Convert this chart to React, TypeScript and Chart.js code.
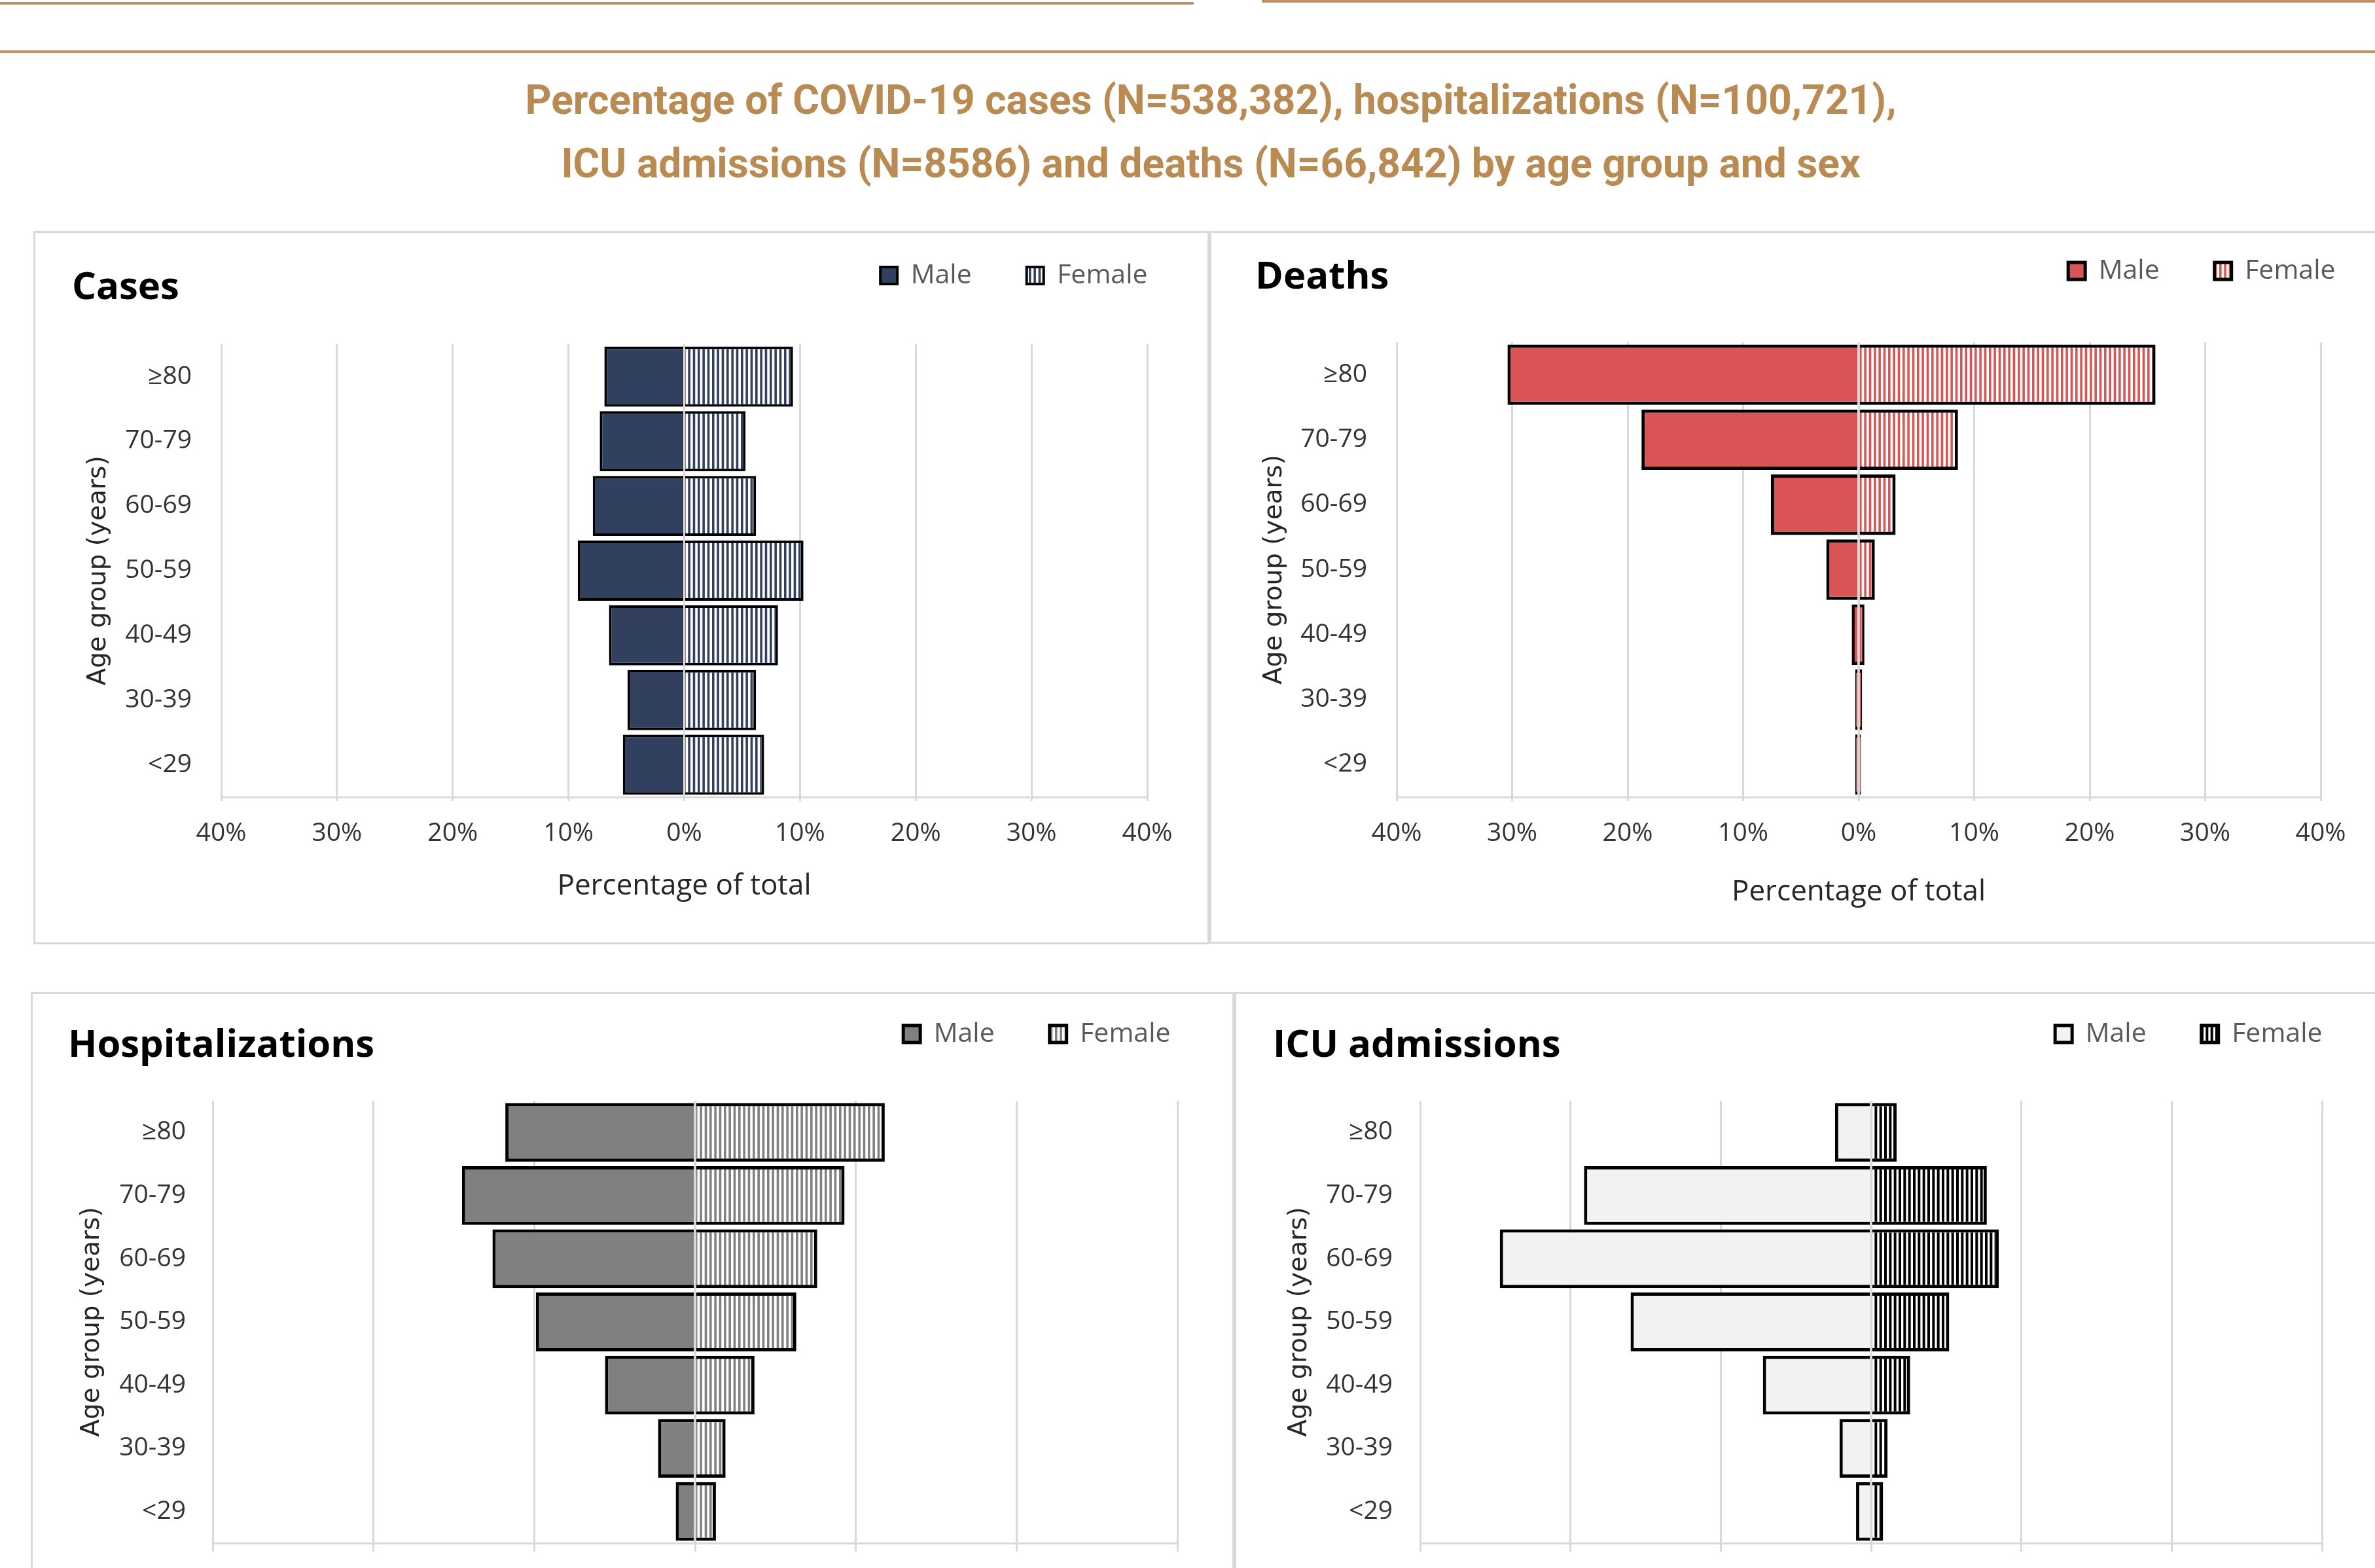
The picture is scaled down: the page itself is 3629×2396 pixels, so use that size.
import React, { useEffect, useRef } from 'react';
import { Chart, registerables } from 'chart.js';

Chart.register(...registerables);

// ---------------- data ----------------
const ageGroups = ['≥80', '70-79', '60-69', '50-59', '40-49', '30-39', '<29'];
const sexLabels = ['Male', 'Female'];

const casesMale = [6.9, 7.3, 7.9, 9.2, 6.5, 4.9, 5.3];
const casesFemale = [9.4, 5.3, 6.2, 10.3, 8.1, 6.2, 6.9];
const deathsMale = [30.4, 18.8, 7.6, 2.8, 0.6, 0.3, 0.3];
const deathsFemale = [25.7, 8.6, 3.2, 1.4, 0.5, 0.3, 0.2];
const hospMale = [11.8, 14.5, 12.6, 9.9, 5.6, 2.3, 1.2];
const hospFemale = [11.8, 9.3, 7.6, 6.3, 3.7, 1.9, 1.3];
const icuMale = [2.4, 19.1, 24.7, 16.0, 7.2, 2.1, 1.0];
const icuFemale = [1.7, 7.7, 8.5, 5.2, 2.6, 1.1, 0.8];

const titleLines = [
  'Percentage of COVID-19 cases (N=538,382), hospitalizations (N=100,721),',
  'ICU admissions (N=8586) and deaths (N=66,842) by age group and sex',
];
const panelTitles = ['Cases', 'Deaths', 'Hospitalizations', 'ICU admissions'];
const xAxisTitle = 'Percentage of total';
const yAxisTitle = 'Age group (years)';

// ---------------- styles ----------------
const BROWN = '#B98A52';
const RULE = '#BF9260';
const GRID = '#D9D9D9';
const TICK_COLOR = '#333333';
const AXIS_TITLE_COLOR = '#262626';
const LEGEND_COLOR = '#595959';
const B = 3; // panel border
const FONT = { panelTitle: 58, legend: 41, tick: 39, axisTitle: 44, yTitle: 39 };
const LEG_PAD = 84;
const LEG_BOX = 26;

interface PanelSpec {
  box: number[]; // left, top, width, height (outer)
  title: string;
  titleX: number;
  titleY: number;
  legendY: number;
  legendRight: number;
  plot: number[]; // left, top, right, bottom
  labelRight: number;
  yTitleX: number;
  tickY: number;
  xTitleY: number;
  tickLen: number;
  range: number;
  male: number[];
  female: number[];
  maleColor: string;
  stripeColor: string;
  stripeW: number;
  bw: number;
}

const panels: PanelSpec[] = [
  {
    box: [51, 353, 1797, 1090], title: panelTitles[0], titleX: 110, titleY: 440, legendY: 421, legendRight: 1753,
    plot: [338, 526, 1753, 1218], labelRight: 293, yTitleX: 151, tickY: 1274, xTitleY: 1354, tickLen: 6, range: 40,
    male: casesMale, female: casesFemale, maleColor: '#31405E', stripeColor: '#31405E', stripeW: 3.6, bw: 4,
  },
  {
    box: [1848, 353, 1800, 1089], title: panelTitles[1], titleX: 1918, titleY: 424, legendY: 414, legendRight: 3568,
    plot: [2134, 523, 3546, 1218], labelRight: 2089, yTitleX: 1948, tickY: 1274, xTitleY: 1363, tickLen: 6, range: 40,
    male: deathsMale, female: deathsFemale, maleColor: '#DA5456', stripeColor: '#DA5456', stripeW: 3.6, bw: 5,
  },
  {
    box: [47, 1516, 1839, 1044], title: panelTitles[2], titleX: 104, titleY: 1598, legendY: 1580, legendRight: 1788,
    plot: [325, 1682, 1799, 2358], labelRight: 284, yTitleX: 141, tickY: 2414, xTitleY: 2494, tickLen: 13, range: 30,
    male: hospMale, female: hospFemale, maleColor: '#808080', stripeColor: '#808080', stripeW: 3.6, bw: 5,
  },
  {
    box: [1886, 1516, 1800, 1044], title: panelTitles[3], titleX: 1945, titleY: 1598, legendY: 1580, legendRight: 3548,
    plot: [2170, 1682, 3548, 2358], labelRight: 2128, yTitleX: 1986, tickY: 2414, xTitleY: 2494, tickLen: 13, range: 30,
    male: icuMale, female: icuFemale, maleColor: '#F2F2F2', stripeColor: '#000000', stripeW: 4, bw: 5,
  },
];

function stripes(ctx: CanvasRenderingContext2D, color: string, w: number): CanvasPattern {
  const c = document.createElement('canvas');
  c.width = 22;
  c.height = 8;
  const g = c.getContext('2d')!;
  g.fillStyle = '#ffffff';
  g.fillRect(0, 0, 22, 8);
  g.fillStyle = color;
  for (let i = 0; i < 3; i++) g.fillRect((i * 22) / 3, 0, w, 8);
  return ctx.createPattern(c, 'repeat')!;
}

const panelHeader = {
  id: 'panelHeader',
  afterLayout(chart: any, _a: any, o: any) {
    const tb = chart.titleBlock;
    if (tb) {
      tb.top = o.titleTop;
      tb.bottom = o.titleTop + o.titleH;
      tb.left = o.titleLeft;
      tb.right = chart.width;
      tb.width = tb.right - tb.left;
      tb.height = o.titleH;
    }
    const lg = chart.legend;
    if (lg) {
      lg.top = o.legendTop;
      lg.bottom = o.legendTop + o.legendH;
      lg.left = 0;
      lg.right = o.legendRight;
      lg.width = lg.right - lg.left;
      lg.height = o.legendH;
    }
  },
};

const zeroLine = {
  id: 'zeroLine',
  afterDatasetsDraw(chart: any, _a: any, o: any) {
    const x = chart.scales.x.getPixelForValue(0);
    const { top, bottom } = chart.chartArea;
    const c = chart.ctx;
    c.save();
    c.strokeStyle = o.color;
    c.lineWidth = o.width;
    c.beginPath();
    c.moveTo(x, top);
    c.lineTo(x, bottom);
    c.stroke();
    c.restore();
  },
};

function buildConfig(s: PanelSpec, ctx: CanvasRenderingContext2D): any {
  const ox = s.box[0] + B;
  const oy = s.box[1] + B;
  const cw = s.box[2] - 2 * B;
  const ch = s.box[3] - 2 * B;
  const [pl, pt, pr, pb] = s.plot;
  const yAxisW = pl - ox;
  const padRight = cw - (pr - ox);
  const titleLH = FONT.panelTitle * 1.2;
  const padTop = pt - oy - titleLH - 1;
  const xTitleLH = FONT.axisTitle * 1.2;
  const scaleBottom = s.xTitleY - oy + xTitleLH / 2;
  const xAxisH = scaleBottom - (pb - oy);
  const padBottom = ch - scaleBottom;
  const tickPad = s.tickY - pb - s.tickLen - (FONT.tick * 1.2) / 2;
  const yTitlePad = s.yTitleX - ox - (FONT.yTitle * 1.2) / 2;
  const itemH = Math.max(FONT.legend, LEG_BOX);
  const legendTop = s.legendY - oy - LEG_PAD - itemH / 2;

  return {
    type: 'bar',
    data: {
      labels: ageGroups,
      datasets: [
        {
          label: sexLabels[0],
          data: s.male.map((v) => -v),
          backgroundColor: s.maleColor,
          borderColor: '#000000',
          borderWidth: s.bw,
          barPercentage: 0.93,
          categoryPercentage: 1,
        },
        {
          label: sexLabels[1],
          data: s.female,
          backgroundColor: stripes(ctx, s.stripeColor, s.stripeW),
          borderColor: '#000000',
          borderWidth: s.bw,
          barPercentage: 0.93,
          categoryPercentage: 1,
        },
      ],
    },
    options: {
      indexAxis: 'y',
      responsive: false,
      animation: false,
      events: [],
      layout: { padding: { left: 0, right: padRight, top: padTop, bottom: padBottom } },
      scales: {
        x: {
          type: 'linear',
          min: -s.range,
          max: s.range,
          stacked: true,
          afterFit: (sc: any) => {
            sc.height = xAxisH;
          },
          grid: { color: GRID, lineWidth: 3, drawTicks: true, tickLength: s.tickLen, tickColor: GRID },
          border: { display: true, color: GRID, width: 3 },
          ticks: {
            stepSize: 10,
            padding: tickPad,
            color: TICK_COLOR,
            maxRotation: 0,
            autoSkip: false,
            font: { family: 'Open Sans', size: FONT.tick },
            callback: (v: any) => Math.abs(Number(v)) + '%',
          },
          title: {
            display: true,
            text: xAxisTitle,
            color: AXIS_TITLE_COLOR,
            font: { family: 'Open Sans', size: FONT.axisTitle },
            padding: 0,
          },
        },
        y: {
          type: 'category',
          stacked: true,
          afterFit: (sc: any) => {
            sc.width = yAxisW;
          },
          grid: { display: false, drawTicks: false },
          border: { display: false },
          ticks: {
            padding: pl - s.labelRight,
            color: TICK_COLOR,
            font: { family: 'Open Sans', size: FONT.tick },
          },
          title: {
            display: true,
            text: yAxisTitle,
            color: AXIS_TITLE_COLOR,
            font: { family: 'DejaVu Sans', size: FONT.yTitle },
            padding: { top: yTitlePad, bottom: 0 },
          },
        },
      },
      plugins: {
        title: {
          display: true,
          text: s.title,
          align: 'start',
          color: '#000000',
          font: { family: 'Open Sans', size: FONT.panelTitle, weight: 'bold' },
          padding: 0,
        },
        legend: {
          display: true,
          position: 'top',
          align: 'end',
          maxHeight: 1,
          labels: {
            boxWidth: LEG_BOX,
            boxHeight: LEG_BOX,
            padding: LEG_PAD,
            color: LEGEND_COLOR,
            font: { family: 'Open Sans', size: FONT.legend },
          },
        },
        tooltip: { enabled: false },
        panelHeader: {
          titleTop: s.titleY - oy - titleLH / 2,
          titleH: titleLH,
          titleLeft: s.titleX - ox,
          legendTop,
          legendH: itemH + 2 * LEG_PAD + 10,
          legendRight: s.legendRight - ox + LEG_PAD + 0.5,
        },
        zeroLine: { color: GRID, width: 3 },
      },
    },
    plugins: [panelHeader, zeroLine],
  };
}

function Panel({ spec }: { spec: PanelSpec }) {
  const ref = useRef<HTMLCanvasElement>(null);
  const [l, t, w, h] = spec.box;
  const cw = w - 2 * B;
  const ch = h - 2 * B;
  useEffect(() => {
    const canvas = ref.current!;
    const ctx = canvas.getContext('2d')!;
    const chart = new Chart(ctx, buildConfig(spec, ctx));
    return () => chart.destroy();
  }, [spec]);
  return (
    <div
      style={{
        position: 'absolute',
        left: l,
        top: t,
        width: w,
        height: h,
        boxSizing: 'border-box',
        border: `${B}px solid ${GRID}`,
        background: '#ffffff',
      }}
    >
      <canvas ref={ref} width={cw} height={ch} style={{ position: 'absolute', left: 0, top: 0, width: cw, height: ch }} />
    </div>
  );
}

export default function App() {
  return (
    <div
      style={{
        position: 'fixed',
        left: 0,
        top: 0,
        width: 3629,
        height: 2396,
        overflow: 'hidden',
        background: '#ffffff',
      }}
    >
      <div style={{ position: 'absolute', left: 0, top: 3, width: 1824, height: 4, background: RULE }} />
      <div style={{ position: 'absolute', left: 1928, top: 0, width: 1701, height: 4, background: RULE }} />
      <div style={{ position: 'absolute', left: 0, top: 77, width: 3629, height: 4, background: RULE }} />
      <div
        style={{
          position: 'absolute',
          left: 350,
          top: 104,
          width: 3000,
          textAlign: 'center',
          fontFamily: 'Roboto',
          fontWeight: 700,
          fontSize: 62.3,
          lineHeight: '97px',
          color: BROWN,
          whiteSpace: 'nowrap',
        }}
      >
        <div>{titleLines[0]}</div>
        <div>{titleLines[1]}</div>
      </div>
      {panels.map((p, i) => (
        <Panel key={i} spec={p} />
      ))}
    </div>
  );
}
